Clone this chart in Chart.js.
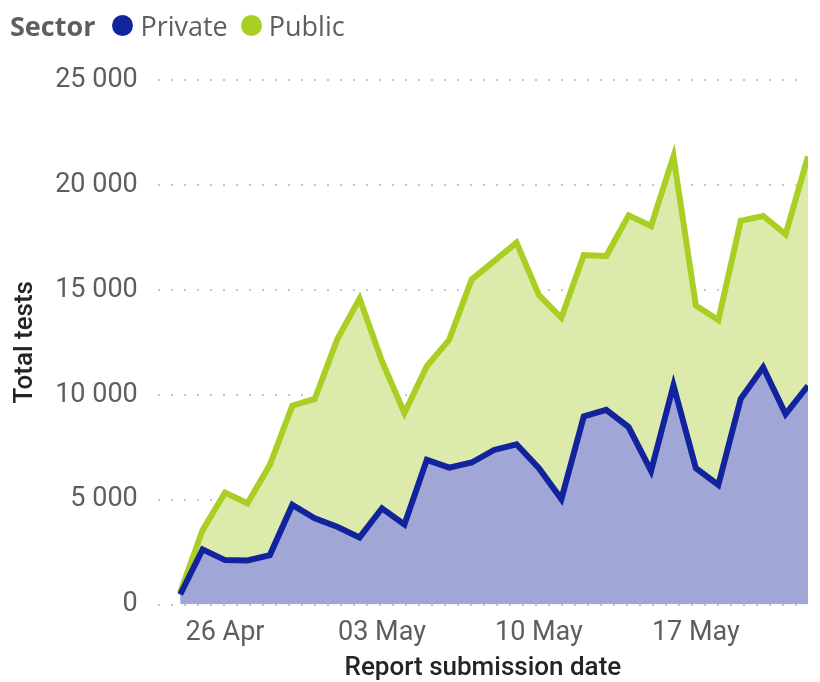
<!DOCTYPE html>
<html>
<head>
<meta charset="utf-8">
<script src="https://cdn.jsdelivr.net/npm/chart.js@4"></script>
<style>
  html, body { margin: 0; padding: 0; background: #fff; }
  #wrap { position: relative; width: 820px; height: 682px; }
  #legend {
    position: absolute; left: 10px; top: 7px;
    font-family: "Open Sans", sans-serif; font-size: 27px; color: #605E5C;
    display: flex; align-items: center; white-space: nowrap;
  }
  #legend b { font-weight: 700; color: #605E5C; margin-right: 17px; }
  #legend .dot { display: inline-block; width: 21px; height: 21px; border-radius: 50%; margin-right: 7px; }
  #legend .item { display: flex; align-items: center; margin-right: 13px; }
</style>
</head>
<body>
<div id="wrap">
  <div id="legend">
    <b>Sector</b>
    <span class="item"><span class="dot" style="background:#12239E"></span>Private</span>
    <span class="item"><span class="dot" style="background:#AACF24"></span>Public</span>
  </div>
  <canvas id="tests" width="820" height="682"></canvas>
</div>
<script>
// dias del informe, 24 Apr - 22 May
const dates = ['24 Apr','25 Apr','26 Apr','27 Apr','28 Apr','29 Apr','30 Apr',
  '01 May','02 May','03 May','04 May','05 May','06 May','07 May','08 May','09 May',
  '10 May','11 May','12 May','13 May','14 May','15 May','16 May','17 May','18 May',
  '19 May','20 May','21 May','22 May'];
const tickDates = ['26 Apr','03 May','10 May','17 May'];
const yTicks = [0, 5000, 10000, 15000, 20000, 25000];

const privateTests = [480, 2630, 2120, 2100, 2360, 4750, 4110, 3710, 3200, 4590,
  3820, 6900, 6530, 6770, 7370, 7640, 6500, 5030, 8970, 9280,
  8460, 6370, 10450, 6500, 5700, 9810, 11310, 9080, 10430];
const publicTests = [100, 920, 3220, 2730, 4300, 4730, 5690, 8920, 11390, 7010,
  5310, 4460, 6100, 8730, 9000, 9610, 8250, 8640, 7690, 7330,
  10090, 11670, 10910, 7750, 7860, 8480, 7210, 8570, 10930];

const fmt = v => String(v).replace(/\B(?=(\d{3})+(?!\d))/g, ' ');

const ctx = document.getElementById('tests').getContext('2d');
const chart_tests = new Chart(ctx, {
  type: 'line',
  data: {
    datasets: [{
      label: 'Private',
      data: privateTests.map((v, i) => ({ x: i, y: v })),
      borderColor: '#12239E',
      backgroundColor: '#A0A6D6',
      borderWidth: 6,
      fill: 'origin',
      pointRadius: 0,
      tension: 0
    }, {
      label: 'Public',
      data: publicTests.map((v, i) => ({ x: i, y: v })),
      borderColor: '#AACF24',
      backgroundColor: '#DCEAAB',
      borderWidth: 6,
      fill: '-1',
      pointRadius: 0,
      tension: 0
    }]
  },
  options: {
    responsive: false,
    animation: false,
    layout: { padding: { top: 80, right: 12, left: 10, bottom: 0 } },
    plugins: {
      legend: { display: false },
      tooltip: { enabled: false }
    },
    scales: {
      x: {
        type: 'linear',
        min: -1,
        max: 28,
        afterBuildTicks: axis => {
          axis.ticks = tickDates.map(d => ({ value: dates.indexOf(d) }));
        },
        ticks: {
          callback: v => dates[v],
          color: '#605E5C',
          font: { family: 'Roboto', size: 27 },
          padding: 12,
          maxRotation: 0,
          autoSkip: false
        },
        grid: { display: false, drawTicks: false },
        border: { display: false },
        title: {
          display: true,
          text: 'Report submission date',
          color: '#252423',
          font: { family: 'Roboto', size: 26, weight: 500, lineHeight: 1.0 },
          padding: { top: -6, bottom: 1 }
        }
      },
      y: {
        stacked: true,
        min: 0,
        max: 25000,
        afterBuildTicks: axis => {
          axis.ticks = yTicks.map(v => ({ value: v }));
        },
        ticks: {
          callback: v => fmt(v),
          color: '#605E5C',
          font: { family: 'Roboto', size: 27 },
          padding: 20
        },
        grid: {
          color: '#C8C6C4',
          lineWidth: 2,
          drawTicks: false
        },
        border: { display: false, dash: [2, 11] },
        title: {
          display: true,
          text: 'Total tests',
          color: '#252423',
          font: { family: 'Roboto', size: 26, weight: 500 },
          padding: { top: 0, bottom: -6 }
        }
      }
    }
  }
});
</script>
</body>
</html>
